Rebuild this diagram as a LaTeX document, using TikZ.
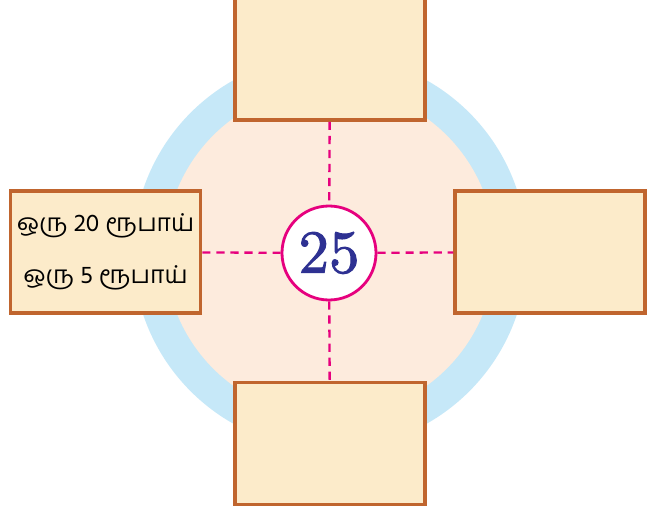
\documentclass[tikz,border=0pt]{standalone}
\usepackage{fontspec}
\newfontfamily\tamilfont[Script=Tamil]{Hind Madurai}
\newfontfamily\numfont[FakeBold=1.6]{lmroman10-regular.otf}
\usetikzlibrary{positioning}

\definecolor{ringblue}{HTML}{C6E8F8}
\definecolor{peach}{HTML}{FDEBDD}
\definecolor{boxfill}{HTML}{FCEBCA}
\definecolor{boxline}{HTML}{C0652E}
\definecolor{pinkline}{HTML}{E6007E}
\definecolor{numblue}{HTML}{2E3192}

\tikzset{
  box/.style={draw=boxline, line width=3pt, fill=boxfill,
    minimum width=5.7cm, minimum height=3.66cm, inner sep=0pt},
  link/.style={pinkline, line width=2pt, dash pattern=on 7pt off 5pt}
}

\begin{document}
\begin{tikzpicture}[x=0.03cm, y=-0.03cm]
  \clip (0,0) rectangle (656,511);
  \fill[white] (0,0) rectangle (656,511);
  % background disc
  \fill[ringblue] (330,252) circle(197);
  \fill[peach] (330,252) circle(165);
  % boxes
  \node[box, minimum height=3.9cm] (up) at (330,55) {};
  \node[box] (down) at (330,443.5) {};
  \node[box] (right) at (550,252) {};
  \node[box, align=center, font=\tamilfont\fontsize{21}{26}\selectfont] (left) at (105.5,252)
    {ஒரு 20 ரூபாய்\\[0.65cm]ஒரு 5 ரூபாய்};
  % middle number
  \node[circle, draw=pinkline, line width=2.4pt, fill=white, minimum size=2.82cm,
    inner sep=0pt, text=numblue, font=\numfont\fontsize{52}{56}\selectfont] (mid) at (329,253) {25};
  \draw[link] (up) -- (mid);
  \draw[link] (mid) -- (down);
  \draw[link] (left) -- (mid);
  \draw[link] (mid) -- (right);
\end{tikzpicture}
\end{document}
